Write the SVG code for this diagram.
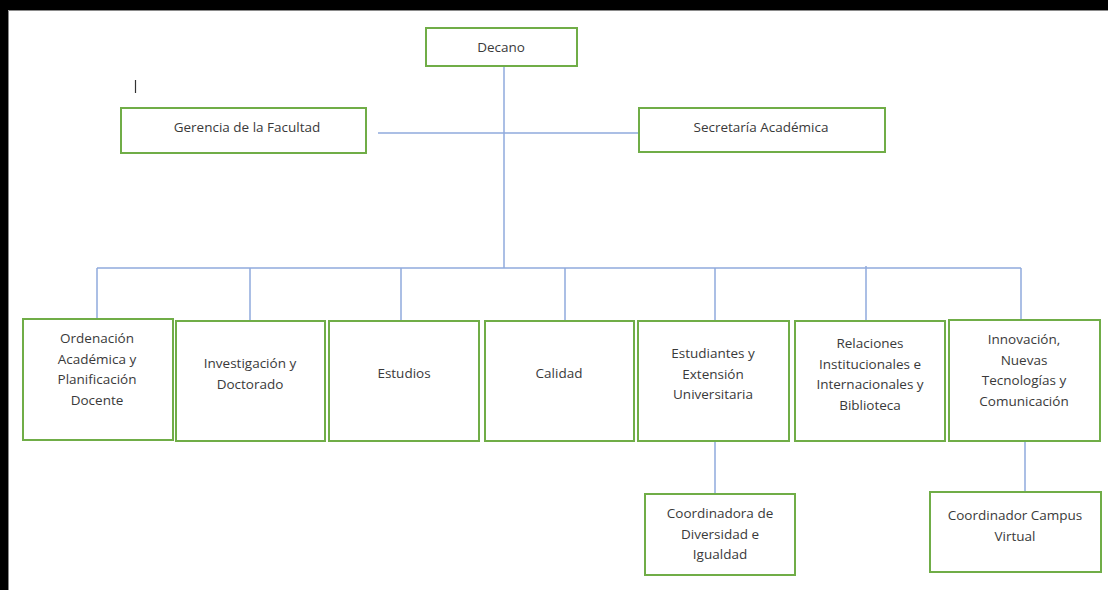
<svg xmlns="http://www.w3.org/2000/svg" width="1108" height="590" viewBox="0 0 1108 590">
<style>
.box{fill:#fff;stroke:#70AD47;stroke-width:2}
.lbl{font-family:"Open Sans","Liberation Sans",sans-serif;font-size:13.5px;fill:#3a3a3a;text-anchor:middle}
.con{stroke:#8FAADC;stroke-width:1.5;fill:none}
</style>
<rect x="0" y="0" width="1108" height="590" fill="#000"/>
<rect x="8" y="10" width="1100" height="580" fill="#fff"/>
<path d="M8.5 590 V10.5 H1108" fill="none" stroke="#8a8a8a" stroke-width="1"/>
<line x1="135.5" y1="80" x2="135.5" y2="93" stroke="#333" stroke-width="1.2"/>
<g id="connectors">
<path class="con" d="M504 67 V268"/>
<path class="con" d="M378 133 H638"/>
<path class="con" d="M97 268 H1021"/>
<path class="con" d="M97 268 V319"/>
<path class="con" d="M250 268 V321"/>
<path class="con" d="M401 268 V321"/>
<path class="con" d="M565 268 V321"/>
<path class="con" d="M715 268 V321"/>
<path class="con" d="M866 266 V321"/>
<path class="con" d="M1021 268 V320"/>
<path class="con" d="M715 441 V494"/>
<path class="con" d="M1025 441 V492"/>
</g>
<g id="decano"><rect class="box" x="426" y="28" width="151" height="38"/><text class="lbl" x="501" y="52">Decano</text></g>
<g id="gerencia"><rect class="box" x="121" y="108" width="245" height="45"/><text class="lbl" x="247" y="132">Gerencia de la Facultad</text></g>
<g id="secretaria"><rect class="box" x="639" y="108" width="246" height="44"/><text class="lbl" x="761" y="132">Secretaría Académica</text></g>
<g id="ordenacion"><rect class="box" x="23" y="319" width="150" height="121"/><text class="lbl" x="97" y="343">Ordenación<tspan x="97" dy="20.5">Académica y</tspan><tspan x="97" dy="20.5">Planificación</tspan><tspan x="97" dy="20.5">Docente</tspan></text></g>
<g id="investigacion"><rect class="box" x="176" y="321" width="149" height="120"/><text class="lbl" x="250" y="368">Investigación y<tspan x="250" dy="20.5">Doctorado</tspan></text></g>
<g id="estudios"><rect class="box" x="329" y="321" width="150" height="120"/><text class="lbl" x="404" y="378">Estudios</text></g>
<g id="calidad"><rect class="box" x="485" y="321" width="149" height="120"/><text class="lbl" x="559" y="378">Calidad</text></g>
<g id="estudiantes"><rect class="box" x="638" y="321" width="151" height="120"/><text class="lbl" x="713" y="358">Estudiantes y<tspan x="713" dy="20.5">Extensión</tspan><tspan x="713" dy="20.5">Universitaria</tspan></text></g>
<g id="relaciones"><rect class="box" x="795" y="321" width="150" height="120"/><text class="lbl" x="870" y="348">Relaciones<tspan x="870" dy="20.5">Institucionales e</tspan><tspan x="870" dy="20.5">Internacionales y</tspan><tspan x="870" dy="20.5">Biblioteca</tspan></text></g>
<g id="innovacion"><rect class="box" x="949" y="320" width="151" height="121"/><text class="lbl" x="1024" y="344">Innovación,<tspan x="1024" dy="20.5">Nuevas</tspan><tspan x="1024" dy="20.5">Tecnologías y</tspan><tspan x="1024" dy="20.5">Comunicación</tspan></text></g>
<g id="coordinadora"><rect class="box" x="645" y="494" width="150" height="81"/><text class="lbl" x="720" y="518">Coordinadora de<tspan x="720" dy="20.5">Diversidad e</tspan><tspan x="720" dy="20.5">Igualdad</tspan></text></g>
<g id="campus"><rect class="box" x="930" y="492" width="171" height="80"/><text class="lbl" x="1015" y="520">Coordinador Campus<tspan x="1015" dy="20.5">Virtual</tspan></text></g>
</svg>
